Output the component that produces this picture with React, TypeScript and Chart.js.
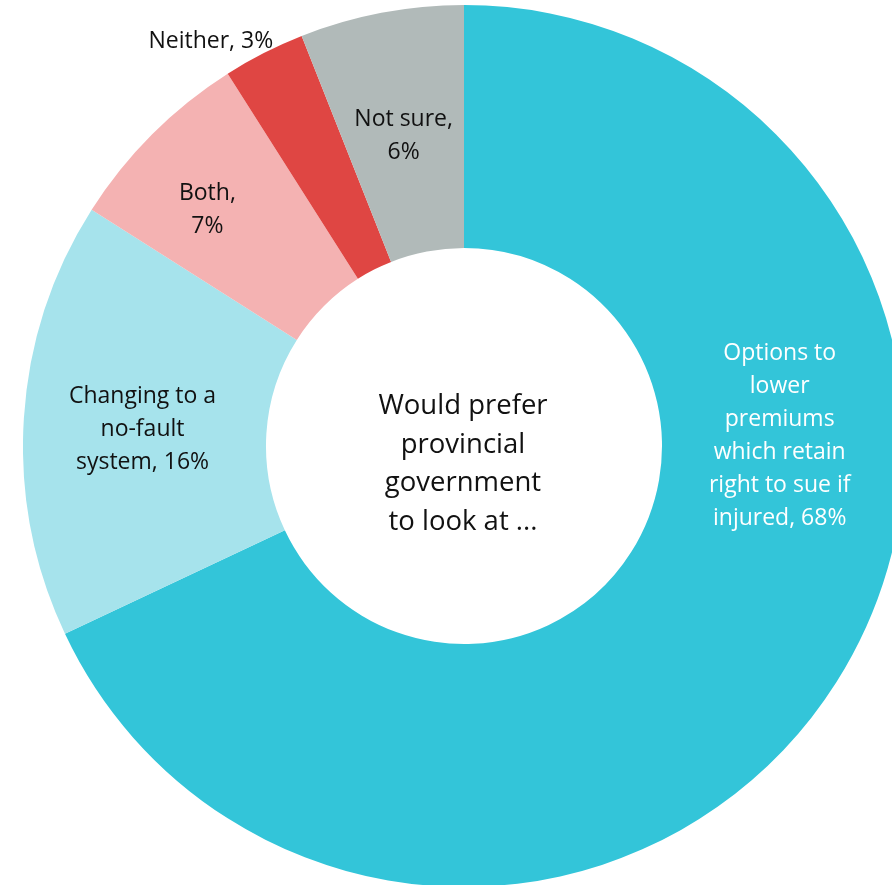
import React, { useEffect, useRef } from "react";
import { Chart, registerables } from "chart.js";

Chart.register(...registerables);

const categories = [
  ["Options to", "lower", "premiums", "which retain", "right to sue if", "injured, 68%"],
  ["Changing to a", "no-fault", "system, 16%"],
  ["Both,", "7%"],
  ["Neither, 3%"],
  ["Not sure,", "6%"],
];
const values = [68, 16, 7, 3, 6];
const colors = ["#33C5D9", "#A6E3EC", "#F4B2B2", "#DF4643", "#B1BAB9"];
const labelColors = ["#FFFFFF", "#111111", "#111111", "#111111", "#111111"];
const centerText = ["Would prefer", "provincial", "government", "to look at ..."];

// label placement: fraction along slice angle, fraction across ring (0 inner, 1 outer)
const labelAngleFrac = [0.36, 0.49, 0.405, 0.035, 0.49];
const labelRadialFrac = [0.485, 0.51, 0.62, 1.15, 0.485];

const FONT = "'Open Sans', Lato, sans-serif";

const labelPlugin = {
  id: "sliceLabels",
  afterDatasetsDraw(chart: any) {
    const ctx = chart.ctx;
    const meta = chart.getDatasetMeta(0);
    ctx.save();
    ctx.textAlign = "center";
    ctx.textBaseline = "middle";
    meta.data.forEach((arc: any, i: number) => {
      const p = arc.getProps(["x", "y", "startAngle", "endAngle", "innerRadius", "outerRadius"], true);
      const a = p.startAngle + (p.endAngle - p.startAngle) * labelAngleFrac[i];
      const r = p.innerRadius + (p.outerRadius - p.innerRadius) * labelRadialFrac[i];
      const cx = p.x + Math.cos(a) * r;
      const cy = p.y + Math.sin(a) * r;
      const lines = categories[i];
      const lh = 33;
      ctx.font = `23px ${FONT}`;
      ctx.fillStyle = labelColors[i];
      lines.forEach((ln, k) => {
        ctx.fillText(ln, cx, cy + (k - (lines.length - 1) / 2) * lh);
      });
    });
    // center text
    const arc0 = meta.data[0];
    const cx = arc0.x - 1;
    const cy = arc0.y + 18;
    ctx.font = `27.5px ${FONT}`;
    ctx.fillStyle = "#111111";
    const lh = 38.5;
    centerText.forEach((ln, k) => {
      ctx.fillText(ln, cx, cy + (k - (centerText.length - 1) / 2) * lh);
    });
    ctx.restore();
  },
};

export default function App() {
  const ref = useRef<HTMLCanvasElement>(null);
  useEffect(() => {
    if (!ref.current) return;
    const chart = new Chart(ref.current, {
      type: "doughnut",
      data: {
        labels: categories.map((c) => c.join(" ")),
        datasets: [
          {
            data: values,
            backgroundColor: colors,
            borderWidth: 0,
            hoverOffset: 0,
          },
        ],
      },
      options: {
        responsive: false,
        maintainAspectRatio: false,
        animation: false,
        cutout: "44.9%",
        layout: { padding: 0 },
        plugins: {
          legend: { display: false },
          tooltip: { enabled: false },
        },
      },
      plugins: [labelPlugin],
    });
    return () => chart.destroy();
  }, []);
  return (
    <div
      style={{
        position: "fixed",
        left: 0,
        top: 0,
        width: 892,
        height: 885,
        overflow: "hidden",
        background: "#FFFFFF",
      }}
    >
      <canvas
        ref={ref}
        width={882}
        height={882}
        style={{ position: "absolute", left: 23, top: 5, width: 882, height: 882 }}
      />
    </div>
  );
}
